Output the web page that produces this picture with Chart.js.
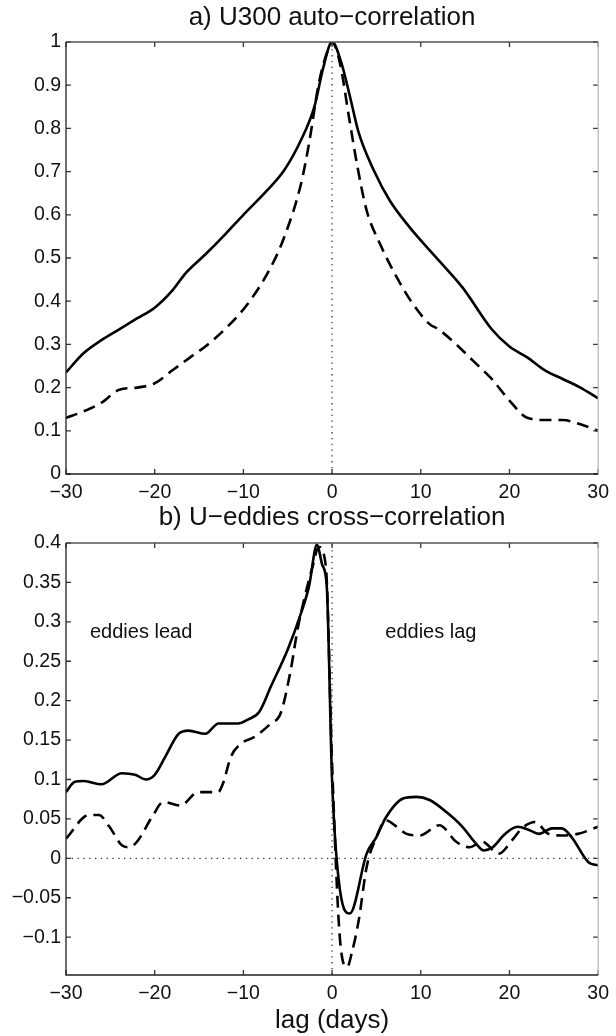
<!DOCTYPE html>
<html><head><meta charset="utf-8">
<script src="https://cdn.jsdelivr.net/npm/chart.js@4.4.0/dist/chart.umd.min.js"></script>
<style>
html,body{margin:0;padding:0;background:#fff;}
body{width:616px;height:1036px;position:relative;overflow:hidden;}
.wrap{position:absolute;left:0;width:616px;}
canvas{display:block;}
</style></head><body>
<div class="wrap" style="top:0;height:510px"><canvas id="ca" width="616" height="510" style="width:616px;height:510px"></canvas></div>
<div class="wrap" style="top:500px;height:536px"><canvas id="cb" width="616" height="536" style="width:616px;height:536px"></canvas></div>
<script>
// ---------- data ----------
const titleA = 'a) U300 auto\u2212correlation';
const titleB = 'b) U\u2212eddies cross\u2212correlation';
const xLabel = 'lag (days)';
const xTicks = [-30, -20, -10, 0, 10, 20, 30];
const yTicksA = [0, 0.1, 0.2, 0.3, 0.4, 0.5, 0.6, 0.7, 0.8, 0.9, 1];
const yTicksB = [-0.1, -0.05, 0, 0.05, 0.1, 0.15, 0.2, 0.25, 0.3, 0.35, 0.4];

// panel a: solid
const lagA1 = [-30,-28,-26,-24,-22,-20,-18,-16.5,-14.3,-12,-10,-7.3,-5.4,-3.5,-2,-1,0,1,2,3,4.7,6.5,8.75,11.7,14.7,18,20,22,24,26,28,30];
const valA1 = [0.235,0.28,0.31,0.335,0.36,0.385,0.425,0.465,0.508,0.556,0.6,0.657,0.703,0.773,0.85,0.94,1.0,0.955,0.875,0.79,0.703,0.633,0.571,0.502,0.432,0.335,0.295,0.27,0.24,0.22,0.2,0.175];
// panel a: dashed
const lagA2 = [-30,-28,-26,-24,-22,-20,-18,-16,-14,-11.7,-9.5,-6.9,-5.4,-3.5,-2.6,-1.5,-0.5,0,0.9,1.9,2.8,3.9,5.4,7.3,9.1,11,12,14,16,18,20,22,24,26,28,30];
const valA2 = [0.13,0.145,0.165,0.195,0.2,0.21,0.24,0.27,0.3,0.343,0.394,0.479,0.548,0.672,0.765,0.904,0.98,1.0,0.95,0.827,0.718,0.61,0.533,0.455,0.394,0.347,0.335,0.3,0.26,0.22,0.17,0.13,0.125,0.125,0.115,0.1];
// panel b: solid
const lagB1 = [-30,-29,-28,-26,-23.7,-22.2,-21,-20,-18.8,-17.3,-16.2,-14.3,-12.8,-10.6,-9.5,-8.2,-6.9,-5,-3.5,-2.6,-1.7,-1.1,-0.6,0,0.75,2,3.9,5,6.1,8,9.5,11,12.85,14.7,16.2,17.1,18.1,19.5,20.9,22.2,23.3,24.8,25.9,27,28.9,30];
const valB1 = [0.084,0.097,0.098,0.094,0.108,0.106,0.1,0.106,0.129,0.158,0.162,0.158,0.171,0.171,0.176,0.186,0.218,0.265,0.311,0.345,0.398,0.372,0.345,0.099,-0.028,-0.07,0.006,0.027,0.0525,0.076,0.078,0.074,0.059,0.04,0.019,0.01,0.014,0.031,0.04,0.036,0.031,0.038,0.038,0.027,-0.005,-0.009];
// panel b: dashed
const lagB2 = [-30,-27.4,-26.3,-25.1,-23.7,-22.9,-22,-20.3,-19,-17.1,-15.1,-12.85,-12.3,-11.4,-10.2,-8.75,-6.9,-5.8,-4.66,-3.9,-3.16,-2.2,-1.5,-0.7,0,0.9,1.7,2.2,3,3.9,5,6.1,7.3,8.4,9.9,12.1,14,15.5,16.9,18.8,20.3,21.4,22.9,24.4,25.9,27.7,30];
const valB2 = [0.025,0.055,0.055,0.04,0.0165,0.014,0.021,0.0525,0.0716,0.067,0.084,0.084,0.095,0.129,0.146,0.154,0.171,0.184,0.239,0.29,0.328,0.37,0.395,0.37,0.12,-0.104,-0.138,-0.121,-0.079,-0.011,0.027,0.048,0.04,0.031,0.029,0.042,0.021,0.014,0.021,0.006,0.023,0.038,0.046,0.031,0.029,0.031,0.04];

const yRangeA = [0, 1];
const yRangeB = [-0.148, 0.4];
const notes = ['eddies lead', 'eddies lag'];
const notesX = [-27.3, 6.0];
const notesY = [0.28, 0.28];

// ---------- helpers ----------
const FONT = '"Liberation Sans", Arial, Helvetica, sans-serif';
const pts = (xs, ys) => xs.map((x, i) => ({x: x, y: ys[i]}));
const fmt = v => String(Number(v.toFixed(3))).replace('-', '\u2212');

const framePlugin = {
  id: 'frame',
  afterDraw(chart) {
    const {ctx, chartArea: {left, right, top, bottom}, scales: {x, y}} = chart;
    const tl = 5;
    ctx.save();
    ctx.lineWidth = 1.3;
    ctx.strokeStyle = '#333';
    x.ticks.forEach(t => {
      const px = x.getPixelForValue(t.value);
      ctx.beginPath();
      ctx.moveTo(px, bottom); ctx.lineTo(px, bottom - tl);
      ctx.moveTo(px, top); ctx.lineTo(px, top + tl);
      ctx.stroke();
    });
    y.ticks.forEach(t => {
      const py = y.getPixelForValue(t.value);
      ctx.beginPath();
      ctx.moveTo(left, py); ctx.lineTo(left + tl, py);
      ctx.moveTo(right, py); ctx.lineTo(right - tl, py);
      ctx.stroke();
    });
    ctx.strokeStyle = '#555';
    ctx.beginPath(); ctx.moveTo(left, top); ctx.lineTo(right, top); ctx.stroke();
    ctx.strokeStyle = '#bbb';
    ctx.beginPath(); ctx.moveTo(right, top); ctx.lineTo(right, bottom); ctx.stroke();
    ctx.strokeStyle = '#222';
    ctx.beginPath(); ctx.moveTo(left, top); ctx.lineTo(left, bottom); ctx.lineTo(right, bottom); ctx.stroke();
    ctx.restore();
  }
};

const notesPlugin = {
  id: 'notes',
  afterDatasetsDraw(chart) {
    const {ctx, scales: {x, y}} = chart;
    ctx.save();
    ctx.fillStyle = '#111';
    ctx.font = '20px ' + FONT;
    ctx.textAlign = 'left';
    ctx.textBaseline = 'alphabetic';
    notes.forEach((t, i) => ctx.fillText(t, x.getPixelForValue(notesX[i]), y.getPixelForValue(notesY[i])));
    ctx.restore();
  }
};

function lineDs(data, dashed) {
  return {
    data: data, borderColor: '#000', borderWidth: 2.6, pointRadius: 0,
    borderDash: dashed ? [12, 7] : [], fill: false, cubicInterpolationMode: 'monotone',
    borderCapStyle: 'butt', borderJoinStyle: 'round'
  };
}
function refDs(data) {
  return {data: data, borderColor: '#333', borderWidth: 1.3, pointRadius: 0, borderDash: [1.3, 4.5], fill: false, tension: 0};
}

function makeOpts(title, yRange, yTicks, titlePad, xHeight, xTitle) {
  return {
    responsive: false, animation: false, devicePixelRatio: 1,
    layout: {padding: {left: 0, right: 13, top: 0, bottom: 0}},
    plugins: {
      legend: {display: false}, tooltip: {enabled: false},
      title: {display: true, text: title, color: '#111', fullSize: false,
              font: {family: FONT, size: 26, weight: 'normal'}, padding: titlePad}
    },
    scales: {
      x: {
        type: 'linear', position: 'bottom', min: -30, max: 30,
        grid: {display: false, drawTicks: false}, border: {display: false},
        afterBuildTicks: s => { s.ticks = xTicks.map(v => ({value: v})); },
        afterFit: s => { s.height = xHeight; },
        ticks: {color: '#111', font: {family: FONT, size: 19.5}, padding: 7, maxRotation: 0, autoSkip: false, callback: v => fmt(v)},
        title: xTitle ? {display: true, text: xTitle, color: '#111', font: {family: FONT, size: 26}, padding: {top: 0, bottom: 0}} : {display: false}
      },
      y: {
        type: 'linear', position: 'left', min: yRange[0], max: yRange[1],
        grid: {display: false, drawTicks: false}, border: {display: false},
        afterBuildTicks: s => { s.ticks = yTicks.map(v => ({value: v})); },
        afterFit: s => { s.width = 66; },
        ticks: {color: '#111', font: {family: FONT, size: 19.5}, padding: 5, autoSkip: false, callback: v => fmt(v)}
      }
    }
  };
}

new Chart(document.getElementById('ca'), {
  type: 'line',
  data: {datasets: [
    refDs([{x: 0, y: yRangeA[0]}, {x: 0, y: yRangeA[1]}]),
    lineDs(pts(lagA1, valA1), false),
    lineDs(pts(lagA2, valA2), true)
  ]},
  options: makeOpts(titleA, yRangeA, yTicksA, {top: 2.4, bottom: 8.4}, 36, null),
  plugins: [framePlugin]
});

new Chart(document.getElementById('cb'), {
  type: 'line',
  data: {datasets: [
    refDs([{x: 0, y: yRangeB[0]}, {x: 0, y: yRangeB[1]}]),
    refDs([{x: -30, y: 0}, {x: 30, y: 0}]),
    lineDs(pts(lagB1, valB1), false),
    lineDs(pts(lagB2, valB2), true)
  ]},
  options: makeOpts(titleB, yRangeB, yTicksB, {top: 2.4, bottom: 9.4}, 61, xLabel),
  plugins: [framePlugin, notesPlugin]
});
</script>
</body></html>
